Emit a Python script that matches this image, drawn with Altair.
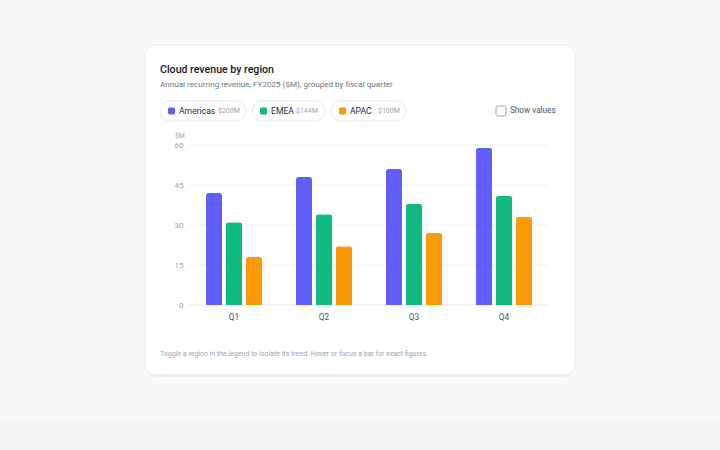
import altair as alt
import pandas as pd

# ---- data ----
quarters = ["Q1", "Q2", "Q3", "Q4"]
regions = ["Americas", "EMEA", "APAC"]
americas = [42, 48, 51, 59]
emea = [31, 34, 38, 41]
apac = [18, 22, 27, 33]
y_ticks = [0, 15, 30, 45, 60]
colors = ["#615EFF", "#10B981", "#FB9A06"]

title_text = "Cloud revenue by region"
subtitle_text = "Annual recurring revenue, FY2025 ($M), grouped by fiscal quarter"
footnote_text = "Toggle a region in the legend to isolate its trend. Hover or focus a bar for exact figures."

series = {"Americas": americas, "EMEA": emea, "APAC": apac}
rows = []
for r in regions:
    for q, v in zip(quarters, series[r]):
        rows.append({"quarter": q, "region": r, "value": v})
df = pd.DataFrame(rows)
totals = {r: sum(series[r]) for r in regions}
ticks_df = pd.DataFrame({"value": y_ticks})

# ---- layout (pixel positions on the 720x450 page) ----
OX, OY = 189, 145  # plot origin
PW, PH = 360, 160


def px(x):
    return x - OX


def py(y):
    return y - OY


one = pd.DataFrame({"k": [0]})
FONT = "Roboto"


def rect(x1, y1, x2, y2, **kw):
    return alt.Chart(one).mark_rect(**kw).encode(
        x=alt.value(px(x1)), x2=alt.value(px(x2)),
        y=alt.value(py(y1)), y2=alt.value(py(y2)))


def text(t, x, y, **kw):
    return alt.Chart(one).mark_text(text=t, font=FONT, baseline="middle", **kw).encode(
        x=alt.value(px(x)), y=alt.value(py(y)))


layers = []
# bottom strip
layers.append(rect(0, 420, 720, 450, color="#F5F5F4"))
# card shadow + card
layers.append(rect(145, 46, 575, 377, color="#EDF0F3", cornerRadius=11))
layers.append(rect(145, 45, 575, 375, fill="#FFFFFF", stroke="#E6E8EC", strokeWidth=1, cornerRadius=10))

# title / subtitle
layers.append(text(title_text, 160, 70, fontSize=10.6, fontWeight=500, color="#111827", align="left"))
layers.append(text(subtitle_text, 160, 85, fontSize=8.1, color="#6B7280", align="left"))

# legend pills: (left, right, total-label offset)
pills = [(160, 246, 58), (252, 325, 44), (331, 406, 47)]
for (x1, x2, tx), r, c in zip(pills, regions, colors):
    layers.append(rect(x1, 101, x2, 121, fill="#FFFFFF", stroke="#E8EAEE", strokeWidth=1, cornerRadius=10))
    layers.append(rect(x1 + 8, 107.5, x1 + 15, 114.5, color=c, cornerRadius=1.5))
    layers.append(text(r, x1 + 19, 111, fontSize=8.6, fontWeight=400, color="#1F2937", align="left"))
    layers.append(text(f"${totals[r]}M", x1 + tx, 111, fontSize=7, color="#9CA3AF", align="left"))

# show values checkbox
layers.append(rect(496, 106, 506, 116, fill="#FFFFFF", stroke="#9CA3AF", strokeWidth=1, cornerRadius=2))
layers.append(text("Show values", 510, 111, fontSize=8.2, color="#4B5563", align="left"))

# $M unit
layers.append(text("$M", 175, 136, fontSize=6.8, color="#9CA3AF", align="left"))

# footnote
layers.append(text(footnote_text, 160, 354, fontSize=7, color="#9CA3AF", align="left"))

y_axis = alt.Axis(title=None, values=y_ticks, ticks=False, domain=False, grid=False,
                  labelOverlap=False, labelColor="#9CA3AF", labelFontSize=8,
                  labelPadding=6, labelFont=FONT, zindex=1)
y_scale = alt.Scale(domain=[0, 60], nice=False)

# gridlines (data driven through the y scale)
grid = alt.Chart(ticks_df).mark_rule(strokeWidth=1).encode(
    y=alt.Y("value:Q", scale=y_scale, axis=y_axis),
    x=alt.value(0), x2=alt.value(PW),
    color=alt.condition(alt.datum.value == 0, alt.value("#E5E7EB"), alt.value("#EEF0F3")),
)
layers.append(grid)

# bars
bars = alt.Chart(df).mark_bar(cornerRadiusTopLeft=2.5, cornerRadiusTopRight=2.5).encode(
    x=alt.X("quarter:N", sort=quarters,
            scale=alt.Scale(paddingInner=0.378, paddingOuter=0.189),
            axis=alt.Axis(title=None, labelAngle=0, ticks=False, domain=False,
                          labelColor="#4B5563", labelFontSize=8.3,
                          labelPadding=7, labelFont=FONT, zindex=1)),
    xOffset=alt.XOffset("region:N", sort=regions,
                        scale=alt.Scale(paddingInner=0.2, paddingOuter=0)),
    y=alt.Y("value:Q", scale=y_scale, axis=y_axis),
    color=alt.Color("region:N", sort=regions,
                    scale=alt.Scale(domain=regions, range=colors), legend=None),
)
layers.append(bars)

chart = alt.layer(*layers).properties(
    width=PW, height=PH,
    background="#F8FAFC",
    autosize=alt.AutoSizeParams(type="none"),
    padding={"left": OX, "top": OY, "right": 720 - OX - PW, "bottom": 450 - OY - PH},
).configure_view(stroke=None)

chart.save("out.html", embed_options={"renderer": "svg", "actions": False})
